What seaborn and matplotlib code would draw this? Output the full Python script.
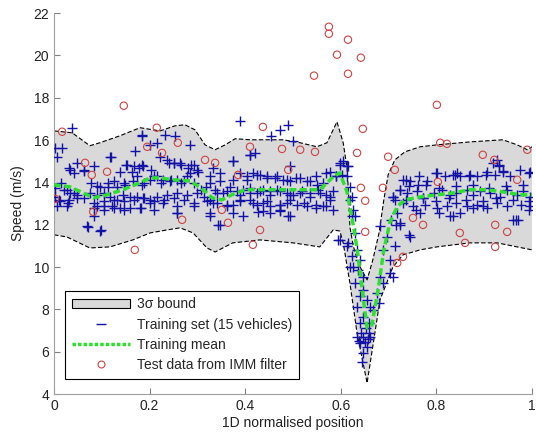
import numpy as np
import pandas as pd
import matplotlib
matplotlib.use('Agg')
import matplotlib.pyplot as plt
from matplotlib.patches import Patch
from matplotlib.lines import Line2D
import seaborn as sns

# 3-sigma envelope, upper and lower edge
upper_pos = [0.0, 0.038, 0.075, 0.096, 0.138, 0.18, 0.222, 0.253, 0.274, 0.295,
             0.316, 0.337, 0.358, 0.379, 0.41, 0.479, 0.515, 0.55, 0.571, 0.592,
             0.605, 0.613, 0.617, 0.619, 0.626, 0.638, 0.655, 0.667, 0.68, 0.69,
             0.699, 0.713, 0.734, 0.766, 0.801, 0.87, 0.939, 0.969, 0.99, 1.0]
upper_speed = [16.43, 16.34, 15.73, 15.87, 16.2, 16.58, 16.43, 16.67, 16.72, 16.48,
               15.77, 15.54, 15.77, 16.06, 16.01, 16.01, 15.87, 15.68, 15.87, 16.86,
               15.87, 14.7, 13.2, 11.9, 11.0, 10.1, 9.39, 10.34, 11.61, 13.17,
               14.35, 15.06, 15.44, 15.68, 15.77, 15.91, 16.01, 15.77, 15.54, 15.68]

lower_pos = [0.0, 0.027, 0.075, 0.117, 0.165, 0.201, 0.236, 0.264, 0.291, 0.32,
             0.337, 0.374, 0.431, 0.5, 0.556, 0.584, 0.598, 0.605, 0.619, 0.634,
             0.655, 0.669, 0.682, 0.709, 0.73, 0.766, 0.801, 0.87, 0.927, 0.969, 1.0]
lower_speed = [11.52, 11.42, 10.9, 10.95, 11.28, 11.61, 11.75, 11.85, 11.61, 10.9,
               10.71, 11.14, 11.28, 11.14, 10.95, 11.75, 11.7, 11.14, 9.25, 6.88,
               4.52, 6.55, 8.44, 10.0, 10.57, 10.81, 10.95, 11.14, 11.14, 10.95, 10.81]

# training mean
mean_pos = [0.0, 0.033, 0.061, 0.082, 0.111, 0.144, 0.18, 0.201, 0.222, 0.249,
            0.285, 0.312, 0.331, 0.351, 0.372, 0.4, 0.452, 0.515, 0.556, 0.584,
            0.598, 0.613, 0.626, 0.636, 0.646, 0.655, 0.665, 0.678, 0.69, 0.703,
            0.718, 0.734, 0.766, 0.801, 0.835, 0.87, 0.906, 0.939, 0.975, 1.0]
mean_speed = [13.88, 13.79, 13.5, 13.27, 13.41, 13.65, 13.98, 14.21, 14.21, 14.12,
              14.07, 13.65, 13.27, 13.17, 13.41, 13.65, 13.65, 13.65, 13.65, 14.26,
              14.45, 13.55, 11.99, 10.57, 8.68, 7.12, 7.26, 8.92, 10.81, 12.13,
              12.84, 13.17, 13.31, 13.41, 13.5, 13.65, 13.65, 13.55, 13.41, 13.41]

# test data from IMM filter
test_pos = [0.017, 0.146, 0.215, 0.259, 0.195, 0.226, 0.316, 0.337, 0.065, 0.111,
            0.079, 0.002, 0.082, 0.268, 0.169, 0.385, 0.351, 0.364, 0.431, 0.416,
            0.437, 0.41, 0.477, 0.515, 0.546, 0.49, 0.634, 0.646, 0.575, 0.575,
            0.615, 0.592, 0.642, 0.544, 0.615, 0.801, 0.699, 0.713, 0.688, 0.642,
            0.651, 0.808, 0.822, 0.897, 0.921, 0.99, 0.803, 0.772, 0.751, 0.849,
            0.86, 0.923, 0.948, 0.923, 0.718, 0.73, 0.969, 0.651]
test_speed = [16.39, 17.62, 16.58, 15.87, 15.68, 15.39, 15.06, 14.92, 14.92, 14.5,
              14.35, 13.22, 12.61, 12.23, 10.81, 14.35, 12.7, 12.09, 11.75, 11.05,
              16.62, 15.68, 15.58, 15.54, 15.44, 14.59, 15.39, 16.53, 21.35, 21.02,
              20.74, 20.03, 19.89, 19.04, 19.13, 17.66, 15.21, 14.59, 13.74, 13.74,
              13.13, 15.87, 15.82, 15.3, 15.06, 15.54, 14.02, 11.99, 12.32, 11.61,
              11.14, 11.99, 11.66, 10.95, 10.19, 10.48, 14.12, 11.66]

# training set (15 vehicles), (position, speed)
training = [
    (0.037, 16.56), (0.002, 15.62), (0.016, 15.62), (0.006, 15.22), (0.048, 14.91),
    (0.034, 14.59), (0.062, 14.59), (0.083, 14.75), (0.118, 15.22), (0.138, 14.51),
    (0.152, 14.83), (0.163, 14.51), (0.177, 14.67), (0.187, 14.75), (0.17, 15.46),
    (0.184, 16.25), (0.201, 15.78), (0.215, 15.85), (0.232, 16.25), (0.253, 16.17),
    (0.285, 15.78), (0.222, 15.22), (0.24, 14.91), (0.25, 14.91), (0.264, 14.91),
    (0.281, 14.67), (0.292, 14.83), (0.302, 14.51), (0.285, 14.44), (0.097, 13.8),
    (0.114, 13.8), (0.131, 13.8), (0.149, 13.88), (0.166, 14.04), (0.184, 13.88),
    (0.201, 14.12), (0.215, 14.28), (0.229, 14.12), (0.243, 14.04), (0.257, 14.12),
    (0.271, 14.04), (0.002, 13.73), (0.02, 13.65), (0.034, 13.49), (0.048, 13.41),
    (0.062, 13.25), (0.076, 13.49), (0.09, 13.41), (0.104, 13.49), (0.118, 13.33),
    (0.131, 13.17), (0.145, 13.41), (0.159, 13.33), (0.173, 13.33), (0.187, 13.25),
    (0.201, 13.17), (0.215, 13.33), (0.236, 13.41), (0.257, 13.49), (0.278, 13.41),
    (0.299, 13.49), (0.313, 13.33), (0.002, 13.33), (0.013, 13.1), (0.03, 13.02),
    (0.006, 12.86), (0.09, 12.86), (0.104, 12.86), (0.121, 12.86), (0.138, 12.78),
    (0.159, 12.78), (0.18, 12.78), (0.201, 13.02), (0.229, 13.02), (0.257, 12.86),
    (0.292, 12.86), (0.32, 13.1), (0.072, 11.91), (0.097, 11.68), (0.257, 12.54),
    (0.083, 12.39), (0.184, 16.2), (0.389, 16.88), (0.473, 16.48), (0.49, 16.72),
    (0.455, 16.17), (0.41, 15.3), (0.42, 15.38), (0.375, 14.99), (0.5, 15.93),
    (0.333, 14.67), (0.326, 14.28), (0.347, 14.44), (0.389, 14.44), (0.403, 14.12),
    (0.417, 14.44), (0.431, 14.36), (0.445, 14.28), (0.462, 14.2), (0.48, 14.12),
    (0.494, 14.04), (0.515, 14.2), (0.536, 14.04), (0.55, 13.88), (0.563, 13.96),
    (0.577, 14.51), (0.591, 14.28), (0.598, 14.83), (0.319, 13.8), (0.337, 13.65),
    (0.354, 13.49), (0.368, 13.8), (0.382, 13.57), (0.396, 13.65), (0.41, 13.73),
    (0.424, 13.49), (0.438, 13.65), (0.452, 13.57), (0.466, 13.65), (0.487, 13.49),
    (0.501, 13.41), (0.518, 13.57), (0.536, 13.49), (0.553, 13.65), (0.57, 13.41),
    (0.584, 13.57), (0.326, 13.17), (0.34, 13.02), (0.361, 12.86), (0.375, 12.94),
    (0.389, 13.17), (0.41, 13.17), (0.424, 12.94), (0.438, 13.02), (0.452, 12.86),
    (0.473, 12.94), (0.487, 13.02), (0.508, 12.94), (0.529, 12.86), (0.549, 12.78),
    (0.563, 12.86), (0.577, 13.17), (0.326, 12.54), (0.344, 11.99), (0.396, 12.39),
    (0.427, 12.62), (0.452, 12.54), (0.473, 12.7), (0.494, 12.39), (0.605, 14.99),
    (0.616, 14.75), (0.612, 14.28), (0.619, 13.8), (0.623, 13.33), (0.626, 12.7),
    (0.629, 12.39), (0.595, 11.28), (0.612, 10.97), (0.626, 10.02), (0.598, 14.91),
    (0.612, 14.75), (0.602, 14.36), (0.619, 13.18), (0.623, 12.39), (0.63, 11.6),
    (0.598, 11.29), (0.616, 11.13), (0.633, 10.81), (0.623, 10.5), (0.64, 10.34),
    (0.619, 10.02), (0.637, 9.87), (0.647, 9.55), (0.63, 9.24), (0.647, 8.92),
    (0.64, 8.61), (0.654, 8.45), (0.633, 8.13), (0.661, 8.13), (0.647, 7.66),
    (0.64, 7.34), (0.658, 7.34), (0.633, 6.71), (0.647, 6.71), (0.661, 6.71),
    (0.64, 6.4), (0.654, 6.24), (0.647, 5.93), (0.644, 5.53), (0.638, 6.5),
    (0.65, 6.45), (0.656, 6.6), (0.643, 6.9), (0.66, 6.9), (0.652, 7.1),
    (0.682, 11.92), (0.696, 11.44), (0.689, 10.81), (0.703, 10.34), (0.682, 9.55),
    (0.689, 9.24), (0.675, 8.76), (0.679, 8.29), (0.668, 7.97), (0.703, 9.71),
    (0.71, 9.55), (0.713, 10.97), (0.706, 12.23), (0.717, 12.55), (0.713, 13.18),
    (0.724, 13.65), (0.926, 15.07), (0.93, 14.75), (0.918, 14.9), (0.843, 14.45),
    (0.731, 14.12), (0.745, 14.04), (0.762, 13.88), (0.78, 14.04), (0.801, 14.44),
    (0.818, 14.28), (0.839, 14.36), (0.849, 14.28), (0.87, 14.36), (0.884, 14.28),
    (0.905, 14.51), (0.923, 14.36), (0.94, 14.51), (0.954, 14.28), (0.975, 14.59),
    (0.996, 14.51), (0.71, 13.33), (0.724, 13.65), (0.738, 13.49), (0.759, 13.57),
    (0.773, 13.25), (0.794, 13.49), (0.811, 13.65), (0.829, 13.41), (0.842, 13.49),
    (0.863, 13.65), (0.877, 13.41), (0.891, 13.57), (0.912, 13.49), (0.933, 13.33),
    (0.947, 13.65), (0.968, 13.41), (0.982, 13.57), (0.995, 13.33), (0.731, 13.02),
    (0.752, 12.86), (0.776, 12.94), (0.801, 12.78), (0.822, 12.86), (0.842, 13.02),
    (0.863, 12.86), (0.884, 12.94), (0.905, 12.78), (0.926, 13.02), (0.947, 12.86),
    (0.978, 12.94), (0.996, 12.86), (0.724, 12.07), (0.745, 11.44), (0.828, 12.39),
    (0.849, 12.54), (0.961, 12.23), (0.971, 12.23), (0.766, 12.54),
    # second pass over the dense core
    (0.031, 14.67), (0.042, 14.44), (0.063, 14.52), (0.119, 15.22), (0.15, 14.83),
    (0.167, 14.75), (0.185, 14.83), (0.202, 14.6), (0.237, 15.07), (0.251, 14.91),
    (0.265, 14.83), (0.286, 14.83), (0.3, 14.6), (0.014, 13.96), (0.028, 13.65),
    (0.042, 13.49), (0.077, 13.96), (0.091, 13.81), (0.112, 13.96), (0.126, 14.04),
    (0.146, 13.96), (0.174, 14.28), (0.188, 13.96), (0.209, 14.28), (0.223, 13.96),
    (0.244, 14.12), (0.265, 13.96), (0.279, 14.28), (0.293, 13.96), (0.307, 13.65),
    (0.01, 13.18), (0.031, 13.18), (0.049, 13.26), (0.084, 13.02), (0.105, 13.1),
    (0.126, 13.18), (0.146, 13.1), (0.167, 13.18), (0.188, 13.26), (0.209, 13.1),
    (0.23, 13.18), (0.251, 13.26), (0.272, 13.18), (0.293, 13.02), (0.028, 12.86),
    (0.084, 12.78), (0.105, 12.7), (0.126, 12.78), (0.146, 12.7), (0.181, 12.78),
    (0.209, 12.7), (0.258, 12.55), (0.07, 11.92), (0.098, 11.76),
    (0.41, 15.3), (0.375, 14.99), (0.494, 14.75), (0.326, 13.96), (0.347, 14.04),
    (0.375, 14.12), (0.403, 14.28), (0.424, 14.36), (0.445, 14.2), (0.466, 14.28),
    (0.487, 14.12), (0.507, 14.2), (0.529, 14.04), (0.549, 14.28), (0.57, 14.44),
    (0.591, 14.28), (0.34, 13.49), (0.361, 13.57), (0.389, 13.41), (0.41, 13.49),
    (0.431, 13.57), (0.452, 13.41), (0.473, 13.57), (0.494, 13.41), (0.515, 13.49),
    (0.535, 13.33), (0.556, 13.49), (0.577, 13.33), (0.333, 13.02), (0.361, 12.94),
    (0.389, 13.1), (0.417, 13.02), (0.445, 13.1), (0.473, 12.94), (0.494, 13.18),
    (0.522, 13.02), (0.549, 12.94), (0.57, 12.86), (0.326, 12.39), (0.375, 12.55),
    (0.438, 12.63), (0.473, 12.63), (0.49, 12.39), (0.347, 12.0), (0.584, 12.7),
    (0.932, 14.83), (0.736, 14.12), (0.764, 14.28), (0.799, 14.44), (0.834, 14.36),
    (0.869, 14.28), (0.904, 14.36), (0.939, 14.52), (0.994, 14.44), (0.743, 13.81),
    (0.778, 13.89), (0.806, 13.73), (0.841, 13.81), (0.876, 13.89), (0.911, 13.73),
    (0.946, 13.81), (0.981, 13.89), (0.709, 13.33), (0.736, 13.18), (0.771, 13.26),
    (0.799, 13.1), (0.827, 13.26), (0.862, 13.18), (0.897, 13.1), (0.925, 13.26),
    (0.96, 13.18), (0.994, 13.1), (0.757, 12.7), (0.806, 12.55), (0.834, 12.39),
    (0.876, 12.78), (0.897, 12.86), (0.994, 12.7), (0.716, 12.0), (0.723, 12.0),
    (0.967, 12.23), (0.743, 11.52),
]

train_df = pd.DataFrame(training, columns=['position', 'speed'])
mean_df = pd.DataFrame({'position': mean_pos, 'speed': mean_speed})
test_df = pd.DataFrame({'position': test_pos, 'speed': test_speed})

sns.set_style('white')
plt.rcParams['font.family'] = ['Liberation Sans', 'DejaVu Sans']

fig = plt.figure(figsize=(5.36, 4.4), dpi=100)
ax = fig.add_axes([54 / 536, 46 / 440, 478 / 536, 381 / 440])

# 3 sigma band as a polygon
band_x = np.concatenate([upper_pos, lower_pos[::-1]])
band_y = np.concatenate([upper_speed, lower_speed[::-1]])
ax.fill(band_x, band_y, color='#d9d9d9', lw=0, zorder=1)
ax.plot(upper_pos, upper_speed, color='black', lw=0.8, ls=(0, (4, 2)), zorder=2)
ax.plot(lower_pos, lower_speed, color='black', lw=0.8, ls=(0, (4, 2)), zorder=2)

sns.scatterplot(data=train_df, x='position', y='speed', marker='+', s=60,
                color='#1212a6', linewidth=1.0, ax=ax, zorder=3, legend=False)
sns.lineplot(data=mean_df, x='position', y='speed', color='#2ee02e', lw=2.5,
             ax=ax, zorder=4, legend=False, estimator=None, sort=False)
ax.lines[-1].set_linestyle((0, (2, 1)))
sns.scatterplot(data=test_df, x='position', y='speed', marker='o', s=28,
                facecolor='none', edgecolor='#cc4444', linewidth=0.8, ax=ax,
                zorder=5, legend=False)

ax.set_xlim(0, 1)
ax.set_ylim(4, 22)
ax.set_xticks([0, 0.2, 0.4, 0.6, 0.8, 1])
ax.set_xticklabels(['0', '0.2', '0.4', '0.6', '0.8', '1'])
ax.set_yticks(range(4, 23, 2))
ax.tick_params(direction='in', length=4, width=0.8, colors='#808080',
               labelcolor='#222222', labelsize=10, left=True, bottom=True)
for side in ['top', 'right']:
    ax.spines[side].set_visible(False)
for side in ['left', 'bottom']:
    ax.spines[side].set_color('#a0a0a0')
    ax.spines[side].set_linewidth(0.8)

ax.set_xlabel('1D normalised position', fontsize=10, color='#222222', labelpad=2)
ax.set_ylabel('Speed (m/s)', fontsize=10, color='#222222', labelpad=6)

handles = [
    Patch(facecolor='#d9d9d9', edgecolor='black', lw=0.8),
    Line2D([], [], color='#1212a6', marker='_', ls='none', markersize=7),
    Line2D([], [], color='#2ee02e', lw=2.5, ls=(0, (1, 0.6))),
    Line2D([], [], color='#cc4444', marker='o', mfc='none', ls='none',
           markersize=5, mew=0.8),
]
labels = ['3σ bound', 'Training set (15 vehicles)', 'Training mean',
          'Test data from IMM filter']
leg = ax.legend(handles, labels, loc='lower left', bbox_to_anchor=(0.023, 0.039),
                fontsize=10, frameon=True, fancybox=False, framealpha=1,
                edgecolor='black', borderpad=0.5, handlelength=4.2,
                handletextpad=0.5, labelspacing=0.45, borderaxespad=0)
leg.get_frame().set_linewidth(0.8)

fig.savefig('out.png', dpi=100)
